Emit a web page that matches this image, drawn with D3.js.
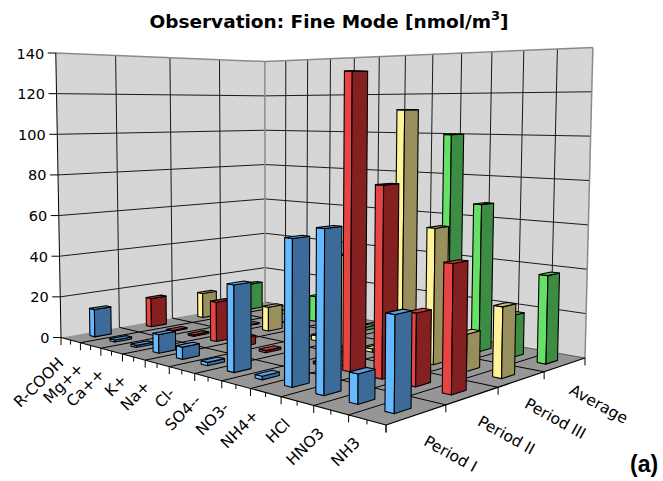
<!DOCTYPE html>
<html><head><meta charset="utf-8">
<script src="https://cdn.jsdelivr.net/npm/d3@7"></script>
<style>html,body{margin:0;padding:0;background:#fff}svg{display:block}text{font-family:"DejaVu Sans",Verdana,sans-serif;fill:#000}</style>
</head><body><svg id="c" width="663" height="481"></svg>
<script>
const categories = ["R-COOH","Mg++","Ca++","K+","Na+","Cl-","SO4--","NO3-","NH4+","HCl","HNO3","NH3"];
const periods = ["Period I","Period II","Period III","Average"];
const periodI   = [13.5,1,1,8.6,5.5,1.5,37.5,1.5,60.5,66,11.7,37];
const periodII  = [14.6,0.5,0.8,19,4,1,6,1,129,81,30,52];
const periodIII = [13,0.5,0.5,12,3,2.5,43,1.5,112,60,16,30];
const average   = [14,0.6,0.7,13,4,1.5,28,1.3,100,68,19,39];
const valueTicks = [0,20,40,60,80,100,120,140];
const seriesValues = [periodI,periodII,periodIII,average];
const faceColors = [
  {light:"#66B8FF",dark:"#3D6B99",top:"#5AA0E0"},
  {light:"#E84444",dark:"#852020",top:"#D03C3C"},
  {light:"#FFF299",dark:"#998F5C",top:"#C9BF7C"},
  {light:"#66E066",dark:"#3D8C44",top:"#52B654"}
];

const svg = d3.select("#c");
// frame of the 3D box
const P0=[61,337.5],P1=[386,425],P2=[585,358],P3=[265,302];
const dx1=P1[0]-P2[0],dx2=P3[0]-P2[0],sx=P0[0]-P1[0]+P2[0]-P3[0];
const dy1=P1[1]-P2[1],dy2=P3[1]-P2[1],sy=P0[1]-P1[1]+P2[1]-P3[1];
const det=dx1*dy2-dx2*dy1;
const g=(sx*dy2-dx2*sy)/det,k=(dx1*sy-sx*dy1)/det;
const a=P1[0]-P0[0]+g*P1[0],b=P3[0]-P0[0]+k*P3[0];
const d_=P1[1]-P0[1]+g*P1[1],e=P3[1]-P0[1]+k*P3[1];
const wallH=284.5,alpha=-0.267,beta=0.183,vanX=270,lean=0.025;

const uBand=d3.scaleBand().domain(categories).range([0,1]);
const vBand=d3.scaleBand().domain(periods).range([0,1]);
const yVal=d3.scaleLinear().domain([0,140]).range([0,1]);

function project(u,v,val){
  const w=1+g*u+k*v;
  const X0=(a*u+b*v+P0[0])/w,Y0=(d_*u+e*v+P0[1])/w;
  const t=yVal(val||0),H=wallH/(1+alpha*u+beta*v);
  return [X0+t*(X0-vanX)*lean,Y0-t*H];
}
const line=d3.line();
function poly(pts,fill,stroke,sw){
  svg.append("path").attr("d",line(pts)+"Z").attr("fill",fill)
    .attr("stroke",stroke||"none").attr("stroke-width",sw||1).attr("stroke-linejoin","round");
}
function seg(p,q,stroke,sw){
  svg.append("path").attr("d",line([p,q])).attr("fill","none").attr("stroke",stroke).attr("stroke-width",sw||1);
}
const grid="#1a1a1a", soft="#8a8a8a";

// walls and floor
poly([project(0,0,0),project(0,1,0),project(0,1,140),project(0,0,140)],"#D6D6D6");
poly([project(0,1,0),project(1,1,0),project(1,1,140),project(0,1,140)],"#D6D6D6");
poly([project(0,0,0),project(1,0,0),project(1,1,0),project(0,1,0)],"#969696");

valueTicks.forEach(t=>{
  if(t===0||t===140) return;
  seg(project(0,0,t),project(0,1,t),grid);
  seg(project(0,1,t),project(1,1,t),grid);
});
const uEdges=d3.range(0,13).map(i=>i/12), vEdges=d3.range(0,5).map(i=>i/4);
vEdges.slice(1,4).forEach(v=>{
  seg(project(0,v,0),project(0,v,140),grid);
  seg(project(0,v,0),project(1,v,0),"#000");
});
uEdges.slice(1,12).forEach(u=>{
  seg(project(u,1,0),project(u,1,140),grid);
  seg(project(u,0,0),project(u,1,0),"#000");
});
seg(project(0,0,140),project(0,1,140),soft,1.5);
seg(project(0,1,140),project(1,1,140),soft,1.5);
seg(project(0,1,0),project(0,1,140),soft,1.5);
seg(project(1,1,0),project(1,1,140),soft,1.5);
seg(project(0,1,0),project(1,1,0),"#555",1);

// axes
seg(project(0,0,0),project(0,0,140),"#000",1);
seg(project(0,0,0),project(1,0,0),"#000",1.2);
seg(project(1,0,0),project(1,1,0),"#000",1.2);
valueTicks.forEach(t=>{
  const p=project(0,0,t);
  seg([p[0]-8,p[1]],p,"#000");
  svg.append("text").attr("x",p[0]-11.5).attr("y",p[1]+5.5).attr("text-anchor","end")
    .attr("font-size",14.5).text(t);
});
d3.range(0,25).forEach(i=>{
  const p=project(i/24,0,0);
  seg(p,[p[0],p[1]+(i%2?4.5:7.5)],"#000");
});
vEdges.forEach(v=>{
  const p=project(1,v,0);
  seg(p,[p[0],p[1]+7.5],"#000");
});
categories.forEach(c=>{
  const p=project(uBand(c)+uBand.bandwidth()/2,0,0);
  svg.append("text").attr("transform",`translate(${p[0]-6},${p[1]+24}) rotate(-45)`)
    .attr("text-anchor","end").attr("font-size",15.5).text(c);
});
periods.forEach(c=>{
  const p=project(1,vBand(c)+vBand.bandwidth()/2,0);
  svg.append("text").attr("transform",`translate(${p[0]+31},${p[1]+44}) rotate(29)`)
    .attr("text-anchor","middle").attr("font-size",15.5).text(c);
});

// bars, back to front
const uw=uBand.bandwidth()*0.125, vw=vBand.bandwidth()*0.14;
d3.range(3,-1,-1).forEach(j=>{
  const vc=vBand(periods[j])+vBand.bandwidth()/2, col=faceColors[j];
  categories.forEach((c,i)=>{
    const uc=uBand(c)+uBand.bandwidth()/2, val=seriesValues[j][i];
    const u0=uc-uw,u1=uc+uw,v0=vc-vw,v1=vc+vw;
    poly([project(u0,v0,0),project(u1,v0,0),project(u1,v0,val),project(u0,v0,val)],col.light,"#000",1.1);
    poly([project(u1,v0,0),project(u1,v1,0),project(u1,v1,val),project(u1,v0,val)],col.dark,"#000",1.1);
    poly([project(u0,v0,val),project(u1,v0,val),project(u1,v1,val),project(u0,v1,val)],col.top,"#000",1.1);
  });
});

// title
const title=svg.append("text").attr("x",329).attr("y",28).attr("text-anchor","middle")
  .attr("font-size",18.5).attr("font-weight","bold");
title.append("tspan").text("Observation: Fine Mode [nmol/m");
title.append("tspan").attr("dy",-8).attr("font-size",13).text("3");
title.append("tspan").attr("dy",8).text("]");
svg.append("text").attr("x",630).attr("y",472).attr("font-size",23).attr("font-weight","bold")
  .style("font-family","'Liberation Sans',Arial,sans-serif").text("(a)");
</script></body></html>
